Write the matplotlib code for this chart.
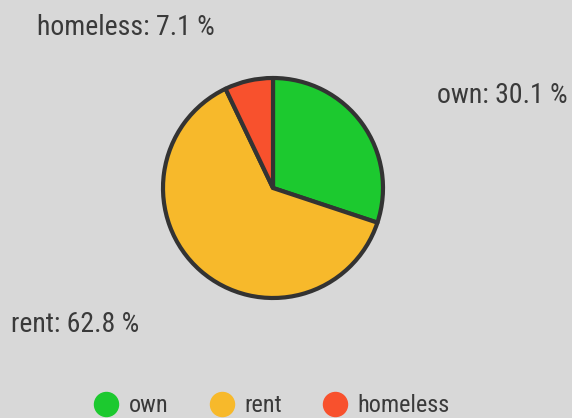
import matplotlib.pyplot as plt
from matplotlib.lines import Line2D

# housing situation shares (%)
categories = ["own", "rent", "homeless"]
shares = [30.1, 62.8, 7.1]
colors = ["#1cc92f", "#f7b92b", "#f8512d"]

plt.rcParams["font.family"] = ["Roboto Condensed", "Roboto", "DejaVu Sans"]
plt.rcParams["font.stretch"] = "condensed"

BG = "#d8d8d8"
TXT = "#3a3a3a"
W, H = 572, 418

fig = plt.figure(figsize=(W / 100, H / 100), dpi=100, facecolor=BG)

# pie axes: centre at (273, 188) px from top, radius 110 px
cx, cy, half = 273, H - 188, 121
ax = fig.add_axes([(cx - half) / W, (cy - half) / H, 2 * half / W, 2 * half / H])
ax.set_facecolor(BG)
ax.pie(shares, colors=colors, startangle=90, counterclock=False, radius=1.0,
       wedgeprops=dict(edgecolor="#333333", linewidth=3, joinstyle="round"))
ax.set_xlim(-1.1, 1.1)
ax.set_ylim(-1.1, 1.1)
ax.axis("off")

# outside labels
label_pos = {"own": (437, 103, "left"),
             "rent": (11, 332, "left"),
             "homeless": (37, 35, "left")}
for name, val in zip(categories, shares):
    x, y, ha = label_pos[name]
    fig.text(x / W, (H - y) / H, f"{name}: {val} %", ha=ha, va="baseline",
             fontsize=20, color=TXT)

handles = [Line2D([], [], linestyle="none", marker="o", markersize=17.3,
                  markerfacecolor=c, markeredgecolor=c) for c in colors]
leg = fig.legend(handles, categories, loc="center", bbox_to_anchor=(272 / W, 12 / H),
                 ncol=3, frameon=False, fontsize=17.5, labelcolor=TXT,
                 handlelength=1.0, handletextpad=0.42, columnspacing=1.7)

fig.savefig("out.png", dpi=100, facecolor=BG)
